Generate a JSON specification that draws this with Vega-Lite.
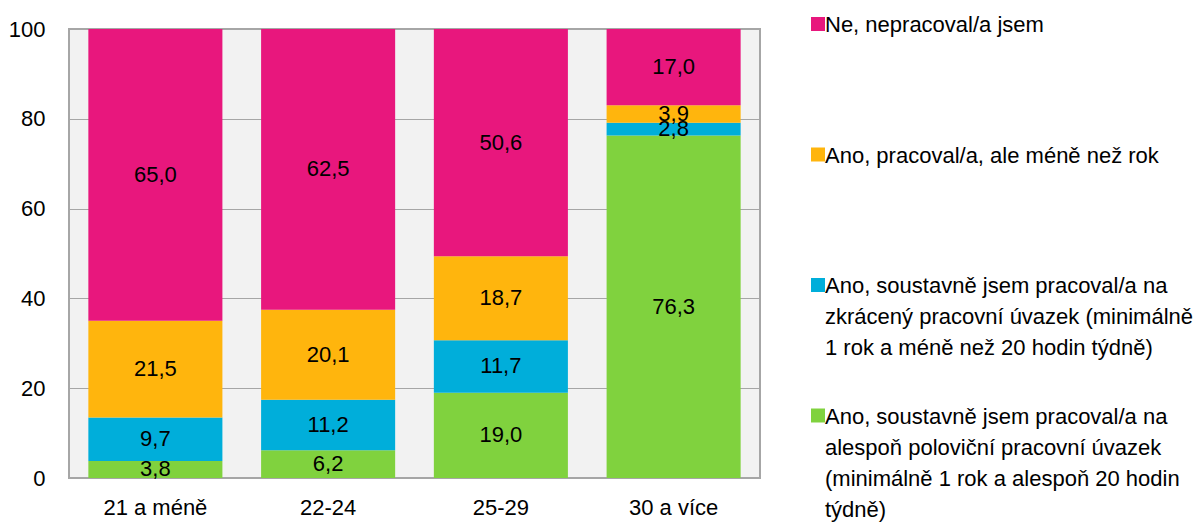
{
  "$schema": "https://vega.github.io/schema/vega-lite/v6.json",
  "width": 691,
  "height": 449,
  "autosize": {"type": "none"},
  "padding": {"left": 69, "top": 29, "right": 435, "bottom": 47},
  "config": {
    "locale": {"number": {"decimal": ",", "thousands": " ", "grouping": [3], "currency": ["", " Kč"]}},
    "font": "Liberation Sans",
    "view": {"fill": "#f2f2f2", "stroke": "#a6a6a6", "strokeWidth": 2},
    "axis": {"labelFont": "Liberation Sans", "labelFontSize": 22, "labelColor": "#000000", "ticks": false, "tickSize": 0, "domain": false, "title": null}
  },
  "data": {
    "values": [
      {"age": "21 a méně", "s": "Ano, soustavně jsem pracoval/a na\nalespoň poloviční pracovní úvazek\n(minimálně 1 rok a alespoň 20 hodin\ntýdně)", "k": 1, "v": 3.8},
      {"age": "21 a méně", "s": "Ano, soustavně jsem pracoval/a na\nzkrácený pracovní úvazek (minimálně\n1 rok a méně než 20 hodin týdně)", "k": 2, "v": 9.7},
      {"age": "21 a méně", "s": "Ano, pracoval/a, ale méně než rok", "k": 3, "v": 21.5},
      {"age": "21 a méně", "s": "Ne, nepracoval/a jsem", "k": 4, "v": 65.0},
      {"age": "22-24", "s": "Ano, soustavně jsem pracoval/a na\nalespoň poloviční pracovní úvazek\n(minimálně 1 rok a alespoň 20 hodin\ntýdně)", "k": 1, "v": 6.2},
      {"age": "22-24", "s": "Ano, soustavně jsem pracoval/a na\nzkrácený pracovní úvazek (minimálně\n1 rok a méně než 20 hodin týdně)", "k": 2, "v": 11.2},
      {"age": "22-24", "s": "Ano, pracoval/a, ale méně než rok", "k": 3, "v": 20.1},
      {"age": "22-24", "s": "Ne, nepracoval/a jsem", "k": 4, "v": 62.5},
      {"age": "25-29", "s": "Ano, soustavně jsem pracoval/a na\nalespoň poloviční pracovní úvazek\n(minimálně 1 rok a alespoň 20 hodin\ntýdně)", "k": 1, "v": 19.0},
      {"age": "25-29", "s": "Ano, soustavně jsem pracoval/a na\nzkrácený pracovní úvazek (minimálně\n1 rok a méně než 20 hodin týdně)", "k": 2, "v": 11.7},
      {"age": "25-29", "s": "Ano, pracoval/a, ale méně než rok", "k": 3, "v": 18.7},
      {"age": "25-29", "s": "Ne, nepracoval/a jsem", "k": 4, "v": 50.6},
      {"age": "30 a více", "s": "Ano, soustavně jsem pracoval/a na\nalespoň poloviční pracovní úvazek\n(minimálně 1 rok a alespoň 20 hodin\ntýdně)", "k": 1, "v": 76.3},
      {"age": "30 a více", "s": "Ano, soustavně jsem pracoval/a na\nzkrácený pracovní úvazek (minimálně\n1 rok a méně než 20 hodin týdně)", "k": 2, "v": 2.8},
      {"age": "30 a více", "s": "Ano, pracoval/a, ale méně než rok", "k": 3, "v": 3.9},
      {"age": "30 a více", "s": "Ne, nepracoval/a jsem", "k": 4, "v": 17.0}
    ]
  },
  "transform": [
    {"stack": "v", "groupby": ["age"], "sort": [{"field": "k"}], "as": ["y0", "y1"]},
    {"calculate": "(datum.y0 + datum.y1) / 2", "as": "ym"}
  ],
  "encoding": {
    "x": {
      "field": "age",
      "type": "nominal",
      "sort": ["21 a méně", "22-24", "25-29", "30 a více"],
      "scale": {"paddingInner": 0.224, "paddingOuter": 0.112},
      "axis": {"labelAngle": 0, "labelPadding": 19, "grid": false}
    }
  },
  "layer": [
    {
      "mark": {"type": "bar"},
      "encoding": {
        "y": {
          "field": "y1",
          "type": "quantitative",
          "scale": {"domain": [0, 100], "nice": false},
          "axis": {"values": [0, 20, 40, 60, 80, 100], "grid": true, "gridColor": "#a6a6a6", "gridWidth": 1.2, "labelPadding": 24}
        },
        "y2": {"field": "y0"},
        "color": {
          "field": "s",
          "type": "nominal",
          "scale": {
            "domain": [
              "Ne, nepracoval/a jsem",
              "Ano, pracoval/a, ale méně než rok",
              "Ano, soustavně jsem pracoval/a na\nzkrácený pracovní úvazek (minimálně\n1 rok a méně než 20 hodin týdně)",
              "Ano, soustavně jsem pracoval/a na\nalespoň poloviční pracovní úvazek\n(minimálně 1 rok a alespoň 20 hodin\ntýdně)"
            ],
            "range": ["#e8177d", "#ffb50d", "#00aeda", "#80d23e"]
          },
          "legend": {
            "orient": "none",
            "legendX": 738,
            "legendY": -16,
            "title": null,
            "symbolType": "square",
            "symbolSize": 196,
            "symbolStrokeWidth": 0,
            "labelFontSize": 22,
            "labelFont": "Liberation Sans",
            "labelColor": "#000000",
            "labelLimit": 500,
            "labelOffset": -4,
            "gridAlign": "all",
            "rowPadding": 14.5,
            "padding": 0,
            "labelBaseline": "top",
            "labelExpr": "split(datum.label, '\\n')",
            "encode": {"labels": {"update": {"lineHeight": {"value": 31}, "dy": {"value": -9}}}}
          }
        }
      }
    },
    {
      "mark": {"type": "text", "fontSize": 22, "color": "#000000", "baseline": "middle"},
      "encoding": {
        "y": {"field": "ym", "type": "quantitative"},
        "text": {"field": "v", "type": "quantitative", "format": ".1f"}
      }
    }
  ]
}
